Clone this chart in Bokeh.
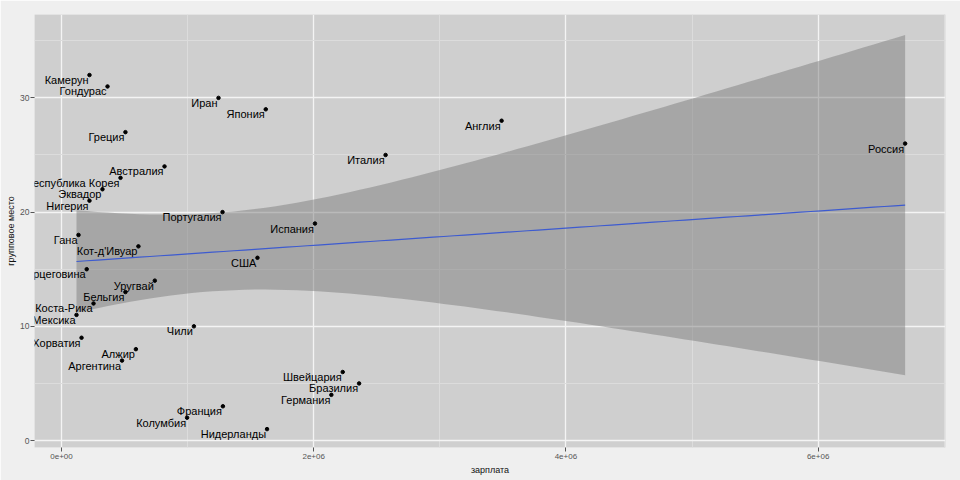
import numpy as np
from bokeh.plotting import figure
from bokeh.models import Range1d, SingleIntervalTicker, ColumnDataSource
from bokeh.core.properties import value
from bokeh.embed import file_html
from bokeh.resources import INLINE

teams = ["Нидерланды", "Колумбия", "Франция", "Германия", "Бразилия", "Швейцария",
         "Аргентина", "Алжир", "Хорватия", "Чили", "Мексика", "Коста-Рика",
         "Бельгия", "Уругвай", "Босния и Герцеговина", "США", "Кот-д'Ивуар", "Гана",
         "Испания", "Португалия", "Нигерия", "Эквадор", "Республика Корея", "Австралия",
         "Италия", "Россия", "Греция", "Англия", "Япония", "Иран", "Гондурас", "Камерун"]
salary = [1.63e6, 0.996e6, 1.28e6, 2.14e6, 2.36e6, 2.23e6,
          0.48e6, 0.59e6, 0.159e6, 1.05e6, 0.119e6, 0.254e6,
          0.507e6, 0.74e6, 0.20e6, 1.554e6, 0.61e6, 0.135e6,
          2.01e6, 1.277e6, 0.222e6, 0.325e6, 0.468e6, 0.817e6,
          2.57e6, 6.69e6, 0.507e6, 3.49e6, 1.62e6, 1.245e6, 0.365e6, 0.222e6]
place = [1, 2, 3, 4, 5, 6, 7, 8, 9, 10, 11, 12, 13, 14, 15, 16,
         17, 18, 19, 20, 21, 22, 23, 24, 25, 26, 27, 28, 29, 30, 31, 32]

x_tick_vals = [0, 2000000, 4000000, 6000000]
x_tick_labels = ["0e+00", "2e+06", "4e+06", "6e+06"]
y_tick_vals = [0, 10, 20, 30]

# linear model fit with 95% confidence band (as geom_smooth(method="lm"))
X = np.array(salary)
Y = np.array(place, dtype=float)
n = len(X)
slope, intercept = np.polyfit(X, Y, 1)
resid = Y - (slope * X + intercept)
s = np.sqrt(np.sum(resid ** 2) / (n - 2))
xm = X.mean()
sxx = np.sum((X - xm) ** 2)
t_crit = 2.042
xs = np.linspace(X.min(), X.max(), 80)
fit = slope * xs + intercept
se = s * np.sqrt(1.0 / n + (xs - xm) ** 2 / sxx)
lower = fit - t_crit * se
upper = fit + t_crit * se

p = figure(width=960, height=480, output_backend="svg", toolbar_location=None,
           x_range=Range1d(-0.214e6, 7.01e6), y_range=Range1d(-0.61, 37.3),
           min_border_left=34, min_border_right=15, min_border_top=14, min_border_bottom=33)

p.background_fill_color = "#cfcfcf"
p.border_fill_color = "#efefef"
p.outline_line_color = None

p.xaxis.ticker = SingleIntervalTicker(interval=2000000, num_minor_ticks=2)
p.yaxis.ticker = SingleIntervalTicker(interval=10, num_minor_ticks=2)
p.xaxis.major_label_overrides = {v: l for v, l in zip(x_tick_vals, x_tick_labels)}

for g in (p.xgrid, p.ygrid):
    g.grid_line_color = "#f4f4f4"
    g.grid_line_width = 1.3
    g.minor_grid_line_color = "#dcdcdc"
    g.minor_grid_line_width = 1

for ax in (p.xaxis, p.yaxis):
    ax.axis_line_color = None
    ax.minor_tick_line_color = None
    ax.major_tick_line_color = "#555555"
    ax.major_tick_out = 4
    ax.major_tick_in = 0
    ax.major_label_text_font = "Liberation Sans"
    ax.major_label_text_font_size = "8px"
    ax.major_label_text_color = "#555555"
    ax.major_label_standoff = 2
    ax.axis_label_text_font = "Liberation Sans"
    ax.axis_label_text_font_size = "9px"
    ax.axis_label_text_font_style = "normal"
    ax.axis_label_text_color = "#111111"
    ax.axis_label_standoff = 3

p.yaxis.major_label_text_font_size = "8.5px"
p.yaxis.major_label_standoff = 1
p.yaxis.axis_label_standoff = 1

p.xaxis.axis_label = "зарплата"
p.yaxis.axis_label = "групповое место"

p.varea(x=xs, y1=lower, y2=upper, fill_color="#777777", fill_alpha=0.466)
p.line(x=xs, y=fit, line_color="#3d5bd0", line_width=1.2)

src = ColumnDataSource(dict(x=salary, y=place, t=teams))
p.scatter(x="x", y="y", source=src, size=3.5, fill_color="black", line_color="black")
p.text(x="x", y="y", text="t", source=src, text_align="right", text_baseline="top",
       text_font=value("Liberation Sans"), text_font_size="11px", text_color="black",
       x_offset=-1, y_offset=-1)

open("out.html", "w").write(file_html(p, INLINE))
